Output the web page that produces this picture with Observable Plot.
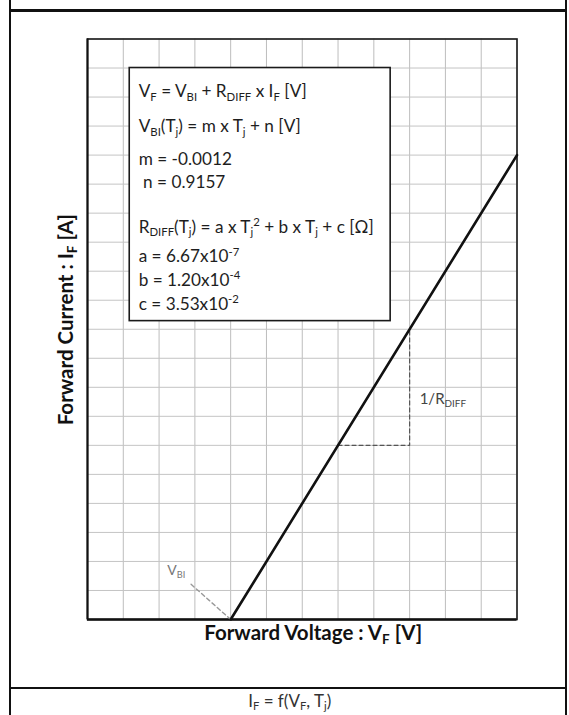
<!DOCTYPE html>
<html><head><meta charset="utf-8">
<script src="https://cdn.jsdelivr.net/npm/d3@7"></script>
<script src="https://cdn.jsdelivr.net/npm/@observablehq/plot@0.6"></script>
<style>
html,body{margin:0;padding:0;background:#fff;}
#wrap{position:relative;width:569px;height:715px;overflow:hidden;font-family:Lato,sans-serif;}
#wrap svg{position:absolute;left:0;top:0;}
.frame{position:absolute;left:9px;top:-5px;width:558px;height:740px;border-left:2px solid #111;border-right:2px solid #111;box-sizing:border-box;pointer-events:none;}
.hline{position:absolute;left:9px;width:558px;height:2px;background:#111;}
</style></head><body><div id="wrap"></div>
<script>
// grid ticks (arbitrary units, the chart has no tick labels)
const gridVoltage = [0, 1, 2, 3, 4, 5, 6, 7, 8, 9, 10, 11, 12];
const gridCurrent = [0, 1, 2, 3, 4, 5, 6, 7, 8, 9, 10, 11, 12, 13, 14, 15, 16, 17, 18, 19, 20];

// I-V characteristic
const curveVoltage = [4, 12];
const curveCurrent = [0, 16];

// slope triangle (1/R_DIFF)
const slopeVoltage = [7, 9, 9];
const slopeCurrent = [6, 6, 10];

// V_BI pointer
const vbiVoltage = [4, 2.88];
const vbiCurrent = [0, 1.23];

// formula box
const boxVoltage = [1.18, 8.47];
const boxCurrent = [10.28, 19.0];
const formulaLines = [
  "V_{F} = V_{BI} + R_{DIFF} x I_{F} [V]",
  "V_{BI}(T_{j}) = m x T_{j} + n [V]",
  "m = -0.0012",
  "\u00a0n = 0.9157",
  "R_{DIFF}(T_{j}) = a x T_{j}^{2} + b x T_{j} + c [\u03a9]",
  "a = 6.67x10^{-7}",
  "b = 1.20x10^{-4}",
  "c = 3.53x10^{-2}"
];
const formulaVoltage = [1.43, 1.43, 1.43, 1.43, 1.43, 1.43, 1.43, 1.43];
const formulaCurrent = [18.18, 16.98, 15.86, 15.04, 13.51, 12.49, 11.68, 10.87];

// annotation labels
const slopeLabel = ["1/R_{DIFF}"];
const slopeLabelVoltage = [9.28];
const slopeLabelCurrent = [7.58];
const vbiLabel = ["V_{BI}"];
const vbiLabelVoltage = [2.23];
const vbiLabelCurrent = [1.69];

const xLabel = ["Forward Voltage : V_{F} [V]"];
const yLabel = ["Forward Current : I_{F} [A]"];
const captionText = ["I_{F} = f(V_{F}, T_{j})"];

const curve = curveVoltage.map((v, i) => ({v, i: curveCurrent[i]}));
const slope = slopeVoltage.map((v, i) => ({v, i: slopeCurrent[i]}));
const vbi = vbiVoltage.map((v, i) => ({v, i: vbiCurrent[i]}));
const formulas = formulaLines.map((t, k) => ({t, v: formulaVoltage[k], i: formulaCurrent[k]}));

const chart = Plot.plot({
  width: 569,
  height: 715,
  marginLeft: 87,
  marginRight: 52.5,
  marginTop: 38.5,
  marginBottom: 96,
  x: {domain: [0, 12], axis: null},
  y: {domain: [0, 20], axis: null},
  style: {fontFamily: "Lato, sans-serif", background: "white", overflow: "visible"},
  marks: [
    Plot.ruleX(gridVoltage, {stroke: "#bdbdbd", strokeWidth: 1}),
    Plot.ruleY(gridCurrent, {stroke: "#c4c4c4", strokeWidth: 1}),
    Plot.frame({stroke: "#1a1a1a", strokeWidth: 1.6}),
    Plot.ruleX([0], {stroke: "#111", strokeWidth: 2}),
    Plot.ruleY([0], {stroke: "#111", strokeWidth: 2.6}),
    Plot.rect([0], {x1: () => boxVoltage[0], x2: () => boxVoltage[1], y1: () => boxCurrent[0], y2: () => boxCurrent[1], fill: "white", stroke: "#1a1a1a", strokeWidth: 1.6}),
    Plot.text(formulas, {x: "v", y: "i", text: "t", textAnchor: "start", fontSize: 17.2, fill: "#1e1e1e"}),
    Plot.line(slope, {x: "v", y: "i", stroke: "#555", strokeWidth: 1.2, strokeDasharray: "4,3"}),
    Plot.line(vbi, {x: "v", y: "i", stroke: "#999", strokeWidth: 1.4, strokeDasharray: "4,3"}),
    Plot.line(curve, {x: "v", y: "i", stroke: "#111", strokeWidth: 2.6}),
    Plot.text(slopeLabel, {x: () => slopeLabelVoltage[0], y: () => slopeLabelCurrent[0], text: d => d, textAnchor: "start", fontSize: 15, fill: "#444"}),
    Plot.text(vbiLabel, {x: () => vbiLabelVoltage[0], y: () => vbiLabelCurrent[0], text: d => d, textAnchor: "start", fontSize: 14, fill: "#777"}),
    Plot.text(xLabel, {frameAnchor: "bottom", dx: 11, dy: 20, text: d => d, textAnchor: "middle", fontSize: 20.5, fontWeight: "bold", fill: "#111"}),
    Plot.text(yLabel, {frameAnchor: "left", rotate: -90, dx: -21, dy: -9.5, text: d => d, textAnchor: "middle", fontSize: 20.5, fontWeight: "bold", fill: "#111"}),
    Plot.text(captionText, {frameAnchor: "bottom", dx: -12.5, dy: 87, text: d => d, textAnchor: "middle", fontSize: 17, fill: "#333"})
  ]
});

const wrapEl = document.getElementById("wrap");
wrapEl.appendChild(chart);
const frameEl = document.createElement("div"); frameEl.className = "frame"; wrapEl.appendChild(frameEl);
const topLine = document.createElement("div"); topLine.className = "hline"; topLine.style.top = "9px"; topLine.style.height = "2.5px"; wrapEl.appendChild(topLine);
const sepLine = document.createElement("div"); sepLine.className = "hline"; sepLine.style.top = "687px"; wrapEl.appendChild(sepLine);

// rich text: _{sub} and ^{sup}
d3.select(chart).selectAll("text").each(function () {
  const s = this.textContent;
  if (!/[_^]\{/.test(s)) return;
  const fs = parseFloat(getComputedStyle(this).fontSize) || 16;
  const parts = [];
  const re = /([_^])\{([^}]*)\}/g;
  let last = 0, m;
  while ((m = re.exec(s))) {
    if (m.index > last) parts.push({t: s.slice(last, m.index), k: "n"});
    parts.push({t: m[2], k: m[1] === "_" ? "sub" : "sup"});
    last = re.lastIndex;
  }
  if (last < s.length) parts.push({t: s.slice(last), k: "n"});
  this.textContent = "";
  let cur = 0;
  for (const p of parts) {
    const target = p.k === "sub" ? 0.2 * fs : p.k === "sup" ? -0.38 * fs : 0;
    const ts = d3.select(this).append("tspan").text(p.t);
    if (target !== cur) ts.attr("dy", target - cur);
    if (p.k !== "n") ts.attr("font-size", 0.66 * fs);
    cur = target;
  }
});
</script></body></html>
